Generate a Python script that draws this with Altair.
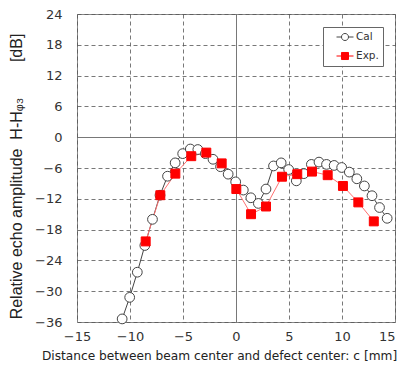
import altair as alt
import pandas as pd

series = ["Cal", "Exp."]

cal_x = [-10.74, -10.03, -9.31, -8.60, -7.88, -7.17, -6.46, -5.74, -5.03, -4.31,
         -3.60, -2.89, -2.17, -1.46, -0.74, -0.03, 0.69, 1.40, 2.11, 2.83,
         3.54, 4.26, 4.97, 5.69, 6.40, 7.11, 7.83, 8.54, 9.26, 9.97,
         10.69, 11.40, 12.11, 12.83, 13.54, 14.26]
cal_y = [-35.4, -31.2, -26.3, -21.1, -16.0, -11.3, -7.6, -5.0, -3.2, -2.3,
         -2.4, -3.2, -4.3, -5.75, -7.2, -8.7, -10.3, -11.8, -12.9, -10.1,
         -5.6, -5.0, -6.3, -8.5, -7.1, -5.3, -4.85, -5.3, -5.5, -5.9,
         -6.8, -8.1, -9.5, -11.4, -13.7, -15.8]

exp_x = [-8.52, -7.14, -5.72, -4.22, -2.80, -1.35, 0.03, 1.42, 2.83, 4.34,
         5.78, 7.17, 8.65, 10.09, 11.54, 13.00]
exp_y = [-20.3, -11.3, -7.1, -3.7, -3.0, -5.1, -10.1, -15.0, -13.5, -7.7,
         -7.2, -6.7, -7.4, -9.5, -12.7, -16.4]

x_ticks = [-15, -10, -5, 0, 5, 10, 15]
y_ticks = [-36, -30, -24, -18, -12, -6, 0, 6, 12, 18, 24]

cal = pd.DataFrame({"x": cal_x, "y": cal_y})
exp = pd.DataFrame({"x": exp_x, "y": exp_y})
leg = pd.DataFrame({"s": series})

FONT = "DejaVu Sans"
NB = "\u00a0"
grid_dash = {"condition": {"test": "datum.value === 0", "value": []}, "value": [4, 3]}
last_right = {"condition": {"test": "datum.value === 15", "value": "right"}, "value": "center"}

xs = alt.Scale(domain=[-15, 15], nice=False, zero=False)
ys = alt.Scale(domain=[-36, 24], nice=False, zero=False)

xenc = alt.X("x:Q", scale=xs, axis=alt.Axis(
    values=x_ticks, title="Distance between beam center and defect center: c [mm]",
    grid=True, gridDash=grid_dash, labelFlush=False, labelPadding=8,
    labelAlign=last_right,
    titlePadding=6, ticks=False, domain=False, titleX=142, titleFontSize=12.2))
yenc = alt.Y("y:Q", scale=ys, axis=alt.Axis(
    values=y_ticks,
    title="Relative echo amplitude" + NB * 2 + "H-Hᵩ₃" + NB * 8 + "[dB]",
    grid=True, gridDash=grid_dash, labelFlush=False, labelPadding=15,
    titlePadding=10, ticks=False, domain=False, titleY=162,
    titleFont="Liberation Sans", titleFontSize=16))

cal_line = alt.Chart(cal).mark_line(color="#444444", strokeWidth=1).encode(x=xenc, y=yenc, order="x:Q")
exp_line = alt.Chart(exp).mark_line(color="#ff7070", strokeWidth=1).encode(x=xenc, y=yenc, order="x:Q")
cal_pts = alt.Chart(cal).mark_point(shape="circle", size=95, fill="white", filled=True,
                                    stroke="#444444", strokeWidth=1, opacity=1).encode(x=xenc, y=yenc)
exp_pts = alt.Chart(exp).mark_point(shape="square", size=80, fill="#ff0000", filled=True,
                                    stroke="#ff0000", strokeWidth=1, opacity=1).encode(x=xenc, y=yenc)

circ_path = ("M0.64,0H1.54M2.82,0H3.73M2.82,0A0.64,0.64,0,1,1,1.54,0"
             "A0.64,0.64,0,1,1,2.82,0Z")
sq_path = "M0.64,0H1.54M2.82,0H3.73M1.54,-0.64H2.82V0.64H1.54Z"

lg = alt.Legend(title=None, orient="none", legendX=246, legendY=13,
                symbolOpacity=1, symbolSize=121, symbolStrokeWidth=1,
                strokeColor="#666666", fillColor="white", padding=4,
                rowPadding=7, labelFontSize=10.5, labelColor="#333333",
                labelFont=FONT, labelOffset=17,
                labelExpr="datum.label + '" + NB * 2 + "'")
legend_layer = alt.Chart(leg).mark_point(opacity=0, filled=False).encode(
    shape=alt.Shape("s:N", scale=alt.Scale(domain=series, range=[circ_path, sq_path]), legend=lg),
    stroke=alt.Stroke("s:N", scale=alt.Scale(domain=series, range=["#444444", "#ff0000"]), legend=lg),
    fill=alt.Fill("s:N", scale=alt.Scale(domain=series, range=["white", "#ff0000"]), legend=lg),
)

chart = alt.layer(cal_line, exp_line, cal_pts, exp_pts, legend_layer).properties(
    width=318, height=308,
    autosize=alt.AutoSizeParams(type="none"),
    padding={"left": 69, "top": 6, "right": 4, "bottom": 45},
).configure_view(stroke="#888888", strokeWidth=1).configure_axis(
    gridColor="#555555", gridWidth=0.8, gridOpacity=1,
    labelFont=FONT, labelFontSize=13, labelColor="#333333",
    titleFont=FONT, titleFontWeight="normal", titleColor="#222222",
)

chart.save("out.html", embed_options={"renderer": "svg", "actions": False})
